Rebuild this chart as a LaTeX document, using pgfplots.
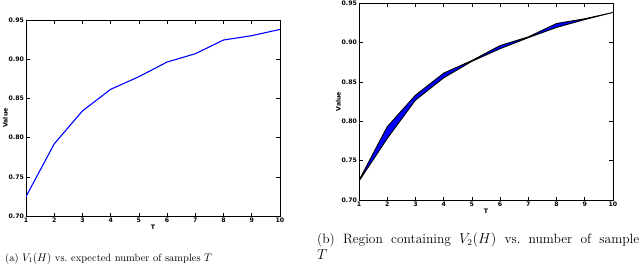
\documentclass[border=0pt]{standalone}
\usepackage{pgfplots}
\pgfplotsset{compat=1.18}
\usepackage{fontspec}
\newfontfamily\tickfont{DejaVu Sans}
\begin{document}
\begin{tikzpicture}[x=1pt,y=1pt]
\useasboundingbox (0,0) rectangle (640,263);
\clip (0,0) rectangle (640,263);
\pgfplotsset{
  mpl/.style={
    scale only axis,
    width=254pt,
    xmin=1, xmax=10, ymin=0.70, ymax=0.95,
    xtick={1,...,10},
    ytick={0.70,0.75,0.80,0.85,0.90,0.95},
    yticklabel style={/pgf/number format/fixed,/pgf/number format/precision=2,/pgf/number format/fixed zerofill},
    /pgf/number format/assume math mode=true,
    tick align=inside,
    major tick length=3.5pt,
    tick style={black, line width=0.6pt},
    axis line style={black, line width=0.9pt},
    ticklabel style={font=\tickfont\bfseries\fontsize{6.2}{7}\selectfont},
    label style={font=\tickfont\bfseries\fontsize{6.2}{7}\selectfont},
    xticklabel style={yshift=1.5pt},
    yticklabel style={xshift=1.5pt},
    xlabel={T}, ylabel={Value},
    xlabel style={yshift=5pt},
    ylabel style={yshift=-6pt},
  }
}
\begin{axis}[mpl, height=196pt, at={(26pt,47pt)}, anchor=south west]
\addplot[blue, line width=1.1pt] coordinates {
(1,0.7247) (2,0.792) (3,0.834) (4,0.8616) (5,0.8777) (6,0.8964) (7,0.907) (8,0.9245) (9,0.930) (10,0.938)};
\end{axis}
\begin{axis}[mpl, height=197pt, at={(359pt,63pt)}, anchor=south west]
\addplot[fill=blue, draw=black, line width=0.9pt] coordinates {
(1,0.725) (2,0.793) (3,0.833) (4,0.861) (5,0.877) (6,0.896) (7,0.907) (8,0.924) (9,0.930) (10,0.938)
(9,0.929) (8,0.919) (7,0.906) (6,0.892) (5,0.876) (4,0.855) (3,0.8267) (2,0.778) (1,0.724)} -- cycle;
\end{axis}
\node[anchor=base west, inner sep=0, font=\fontsize{10.5}{13}\selectfont] at (5,2) {(a) $V_1(H)$ vs.\ expected number of samples $T$};
\node[anchor=base west, inner sep=0, font=\fontsize{13.5}{16}\selectfont] at (317,20) {\makebox[322pt][s]{(b) Region containing $V_2(H)$ vs.\ number of sample}};
\node[anchor=base west, inner sep=0, font=\fontsize{13.5}{16}\selectfont] at (317,3.5) {$T$};
\end{tikzpicture}
\end{document}
